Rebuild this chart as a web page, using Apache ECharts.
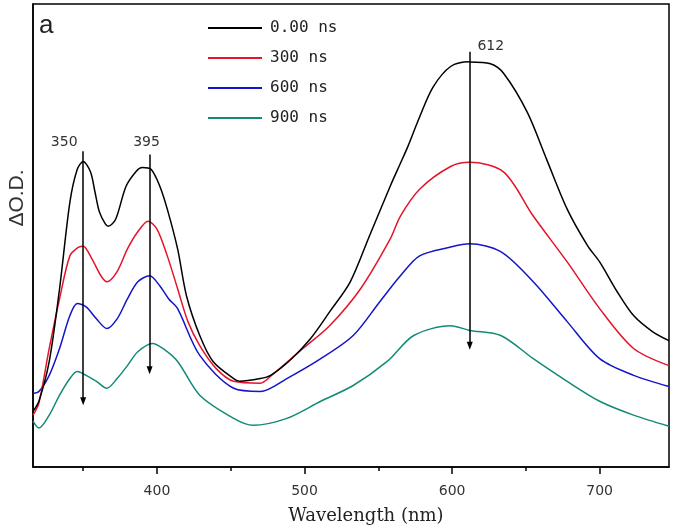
<!DOCTYPE html>
<html>
<head>
<meta charset="utf-8">
<script src="https://cdn.jsdelivr.net/npm/echarts@6/dist/echarts.min.js"></script>
<style>
html,body{margin:0;padding:0;background:#fff;}
#chart{width:675px;height:530px;}
</style>
</head>
<body>
<div id="chart"></div>
<script>
// Series names
const seriesNames = ['0.00 ns', '300 ns', '600 ns', '900 ns'];

// [wavelength (nm), ΔO.D. (arb. units)]
const data000 = [[316,12.0],[320,14.2],[327,22.8],[334,38.5],[341,57.2],[346,64.3],[350,66.0],[355,63.7],[358,59.4],[361,55.1],[365,52.5],[367,52.0],[372,53.5],[379,60.6],[386,63.9],[390,64.7],[396,64.3],[402,60.6],[407,55.7],[414,47.1],[420,37.0],[429,28.4],[438,22.8],[452,19.1],[456,18.5],[470,19.1],[477,19.8],[490,23.0],[504,27.7],[517,33.5],[531,40.0],[544,49.9],[558,60.6],[565,65.6],[570,69.2],[578,75.6],[587,82.0],[599,86.5],[612,87.5],[626,87.1],[635,85.0],[651,76.6],[664,66.5],[678,55.7],[692,47.7],[700,44.3],[712,37.8],[723,32.7],[736,29.2],[747,27.3]];
const data300 = [[316,11.2],[320,13.8],[327,25.6],[334,36.3],[341,45.6],[347,47.5],[350,47.7],[356,44.9],[362,41.3],[366,40.0],[373,42.2],[380,47.1],[387,50.8],[394,53.1],[400,51.4],[407,45.6],[414,38.5],[421,31.4],[429,26.2],[440,21.3],[452,18.5],[470,18.1],[477,19.6],[499,25.6],[517,30.5],[538,38.5],[558,49.2],[565,54.2],[578,60.0],[599,64.9],[612,65.8],[635,63.7],[655,54.2],[678,44.3],[700,34.2],[723,25.6],[747,21.9]];
const data600 = [[316,15.9],[320,16.3],[327,19.8],[334,25.6],[341,32.7],[346,35.3],[352,34.6],[359,32.0],[366,29.9],[373,32.0],[380,36.3],[387,40.0],[395,41.3],[402,39.1],[408,36.3],[414,34.2],[429,24.1],[452,17.0],[470,16.3],[488,19.1],[511,23.4],[533,28.4],[551,35.7],[565,41.3],[578,45.6],[599,47.5],[612,48.2],[633,46.5],[655,40.0],[678,31.4],[700,23.4],[723,19.8],[747,17.4]];
const data900 = [[316,9.9],[320,8.4],[327,11.2],[334,15.5],[341,19.1],[346,20.6],[352,19.8],[359,18.5],[366,17.0],[373,19.1],[380,21.9],[387,24.9],[397,26.7],[404,25.6],[414,22.8],[429,15.5],[452,10.5],[465,9.0],[488,10.5],[511,14.2],[533,17.6],[556,22.8],[574,28.4],[599,30.5],[612,29.5],[633,28.4],[655,23.4],[678,18.5],[700,14.2],[723,11.2],[747,8.8]];

// Annotated arrows: [wavelength, from value, to value, label]
const arrows = [[350, 68.2, 14.2, '350'], [395, 67.5, 20.9, '395'], [612, 89.7, 26.2, '612']];

// Axis ticks
const majorTicks = [400, 500, 600, 700];
const minorTicks = [350, 450, 550, 650];
const xRange = [316, 747];
const yRange = [0, 100];

const colors = ['#000000', '#e5142a', '#1414c8', '#138a78'];
const allData = [data000, data300, data600, data900];

const labelOffsets = [[-19, 0], [-3, 0], [21, 2]];
const labelDist = [2, 5, 0];

const chart = echarts.init(document.getElementById('chart'), null, {renderer: 'canvas'});

const lineSeries = allData.map((d, i) => ({
  name: seriesNames[i],
  type: 'line',
  xAxisIndex: 0,
  data: d,
  showSymbol: false,
  symbol: 'none',
  smooth: 0.3,
  lineStyle: {color: colors[i], width: 1.5},
  itemStyle: {color: colors[i]},
  z: 3 - i + 2
}));

lineSeries.push({
  type: 'line',
  xAxisIndex: 0,
  data: [],
  silent: true,
  z: 10,
  markLine: {
    silent: true,
    symbol: ['none', 'triangle'],
    symbolSize: [6, 8],
    animation: false,
    lineStyle: {color: '#000', width: 1.5, type: 'solid'},
    data: arrows.map((a, i) => [
      {coord: [a[0], a[1]], name: a[3],
       label: {show: true, position: 'start', formatter: a[3], offset: labelOffsets[i], distance: labelDist[i],
               fontFamily: 'DejaVu Sans', fontSize: 14, color: '#333'}},
      {coord: [a[0], a[2]]}
    ])
  }
});

const option = {
  animation: false,
  backgroundColor: '#fff',
  grid: {left: 33, top: 4, right: 6, bottom: 61, show: true, borderColor: '#000', borderWidth: 1.5, backgroundColor: 'transparent'},
  legend: {
    data: seriesNames,
    orient: 'vertical',
    left: 203,
    top: 15,
    icon: 'rect',
    itemWidth: 54,
    itemHeight: 2,
    itemGap: 14,
    selectedMode: false,
    textStyle: {fontFamily: 'DejaVu Sans Mono', fontSize: 16, lineHeight: 16, color: '#222', padding: [0, 0, 0, 3]}
  },
  xAxis: [{
    type: 'value',
    min: xRange[0],
    max: xRange[1],
    name: 'Wavelength (nm)',
    nameLocation: 'middle',
    nameGap: 40,
    nameTextStyle: {fontFamily: 'DejaVu Serif', fontSize: 18, color: '#222', padding: [0, 0, 0, 30]},
    axisLine: {show: true, lineStyle: {color: '#000', width: 1.5}},
    axisTick: {show: true, customValues: majorTicks, length: 7, lineStyle: {color: '#000', width: 1.5}},
    axisLabel: {show: true, customValues: majorTicks, margin: 17, fontFamily: 'DejaVu Sans', fontSize: 14, color: '#333'},
    splitLine: {show: false}
  }, {
    type: 'value',
    min: xRange[0],
    max: xRange[1],
    position: 'bottom',
    axisLine: {show: false},
    axisTick: {show: true, customValues: minorTicks, length: 4, lineStyle: {color: '#000', width: 1.5}},
    axisLabel: {show: false},
    splitLine: {show: false}
  }],
  yAxis: {
    type: 'value',
    min: yRange[0],
    max: yRange[1],
    axisLine: {show: true, lineStyle: {color: '#000', width: 1.5}},
    axisTick: {show: false},
    axisLabel: {show: false},
    splitLine: {show: false}
  },
  graphic: [
    {type: 'text', left: 39, top: 13, style: {text: 'a', fontFamily: 'Liberation Sans', fontSize: 26, fill: '#222'}},
    {type: 'text', x: 17, y: 198, rotation: Math.PI / 2,
     style: {text: 'ΔO.D.', fontFamily: 'Liberation Sans', fontSize: 21, fill: '#333', align: 'center', verticalAlign: 'middle'}}
  ],
  series: lineSeries
};

chart.setOption(option);
</script>
</body>
</html>
